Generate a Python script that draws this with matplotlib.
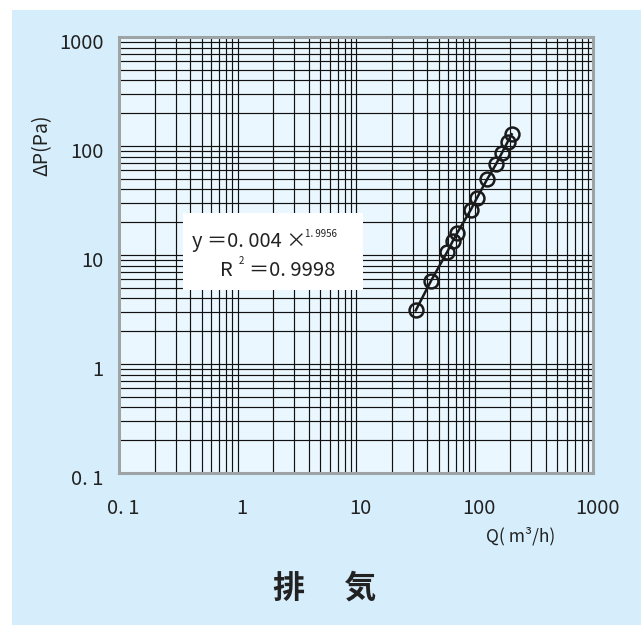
import matplotlib
matplotlib.use("Agg")
import matplotlib.pyplot as plt
import matplotlib.ticker as mticker
from matplotlib.patches import Rectangle
from matplotlib.transforms import ScaledTranslation

plt.rcParams['font.family'] = ['Noto Sans CJK JP', 'DejaVu Sans']

# --- data ---
flow = [31.9, 43.0, 58.9, 65.5, 71.6, 92.9, 104.4, 128.2, 151.8, 169.7, 190.6, 206.0]
pressure = [3.1, 5.8, 10.7, 13.4, 16.0, 25.9, 33.1, 49.8, 68.0, 85.7, 109.5, 128.0]

tick_vals = [0.1, 1, 10, 100, 1000]
tick_labels = ["0. 1", "1", "10", "100", "1000"]

title = "排　 気"
xlabel = "Q( m³/h)"
ylabel = "ΔP(Pa)"
eq_text = "y ＝0. 004 ×"
eq_power = "1. 9956"
r2_name = "R"
r2_sup = "2"
r2_value = "＝0. 9998"

W, H = 641, 625
fig = plt.figure(figsize=(W / 100, H / 100), dpi=100)
fig.patch.set_facecolor("white")

def fx(px):
    return px / W

def fy(py):
    return 1 - py / H

# light blue panel
fig.patches.append(Rectangle((fx(12), 0), 1 - fx(12), fy(10), transform=fig.transFigure,
                             facecolor="#d6eefb", edgecolor="none", zorder=-1))

ax = fig.add_axes([fx(119), fy(473), fx(593) - fx(119), fy(37) - fy(473)])
ax.set_facecolor("#eaf7fe")
ax.set_xscale("log")
ax.set_yscale("log")
ax.set_xlim(0.1, 1000)
ax.set_ylim(0.1, 1000)

ax.xaxis.set_major_locator(mticker.FixedLocator(tick_vals))
ax.yaxis.set_major_locator(mticker.FixedLocator(tick_vals))
ax.xaxis.set_major_formatter(mticker.FixedFormatter(tick_labels))
ax.yaxis.set_major_formatter(mticker.FixedFormatter(tick_labels))
ax.xaxis.set_minor_locator(mticker.LogLocator(base=10, subs=range(2, 10)))
ax.yaxis.set_minor_locator(mticker.LogLocator(base=10, subs=range(2, 10)))
ax.xaxis.set_minor_formatter(mticker.NullFormatter())
ax.yaxis.set_minor_formatter(mticker.NullFormatter())

ax.grid(True, which="both", color="#111111", linewidth=0.85)
ax.tick_params(which="both", length=0)
ax.tick_params(axis="x", pad=18, labelsize=14.5, labelcolor="#222222")
ax.tick_params(axis="y", pad=11, labelsize=14.5, labelcolor="#222222")
for lab in ax.get_yticklabels():
    lab.set_transform(lab.get_transform() + ScaledTranslation(0, -3 / 72, fig.dpi_scale_trans))
for lab in ax.get_xticklabels():
    lab.set_transform(lab.get_transform() + ScaledTranslation(3 / 72, 0, fig.dpi_scale_trans))

for sp in ax.spines.values():
    sp.set_color("#9ea3a6")
    sp.set_linewidth(2.2)

ax.plot(flow, pressure, "-o", color="#1a1a1a", linewidth=1.8, markersize=10,
        markerfacecolor="none", markeredgewidth=1.8, markeredgecolor="#1a1a1a", zorder=5)

# equation box
fig.patches.append(Rectangle((fx(183), fy(290)), fx(363) - fx(183), fy(213) - fy(290),
                             transform=fig.transFigure, facecolor="white",
                             edgecolor="none", zorder=1))
fig.text(fx(192), fy(247), eq_text, fontsize=14.5, color="#222222", va="baseline", zorder=4)
fig.text(fx(305), fy(237), eq_power, fontsize=7, color="#222222", va="baseline", zorder=4)
fig.text(fx(220), fy(276), r2_name, fontsize=14.5, color="#222222", va="baseline", zorder=4)
fig.text(fx(239), fy(264), r2_sup, fontsize=7, color="#222222", va="baseline", zorder=4)
fig.text(fx(249), fy(276), r2_value, fontsize=14.5, color="#222222", va="baseline", zorder=4)

# axis labels
fig.text(fx(42), fy(145), ylabel, fontsize=14, color="#222222", rotation=90,
         ha="center", va="center")
fig.text(fx(521), fy(536), xlabel, fontsize=12.5, color="#222222", ha="center", va="center")

# title
fig.text(fx(325), fy(589), title, fontsize=23, fontweight="bold", color="#222222",
         ha="center", va="center")

fig.savefig("out.png", dpi=100)
